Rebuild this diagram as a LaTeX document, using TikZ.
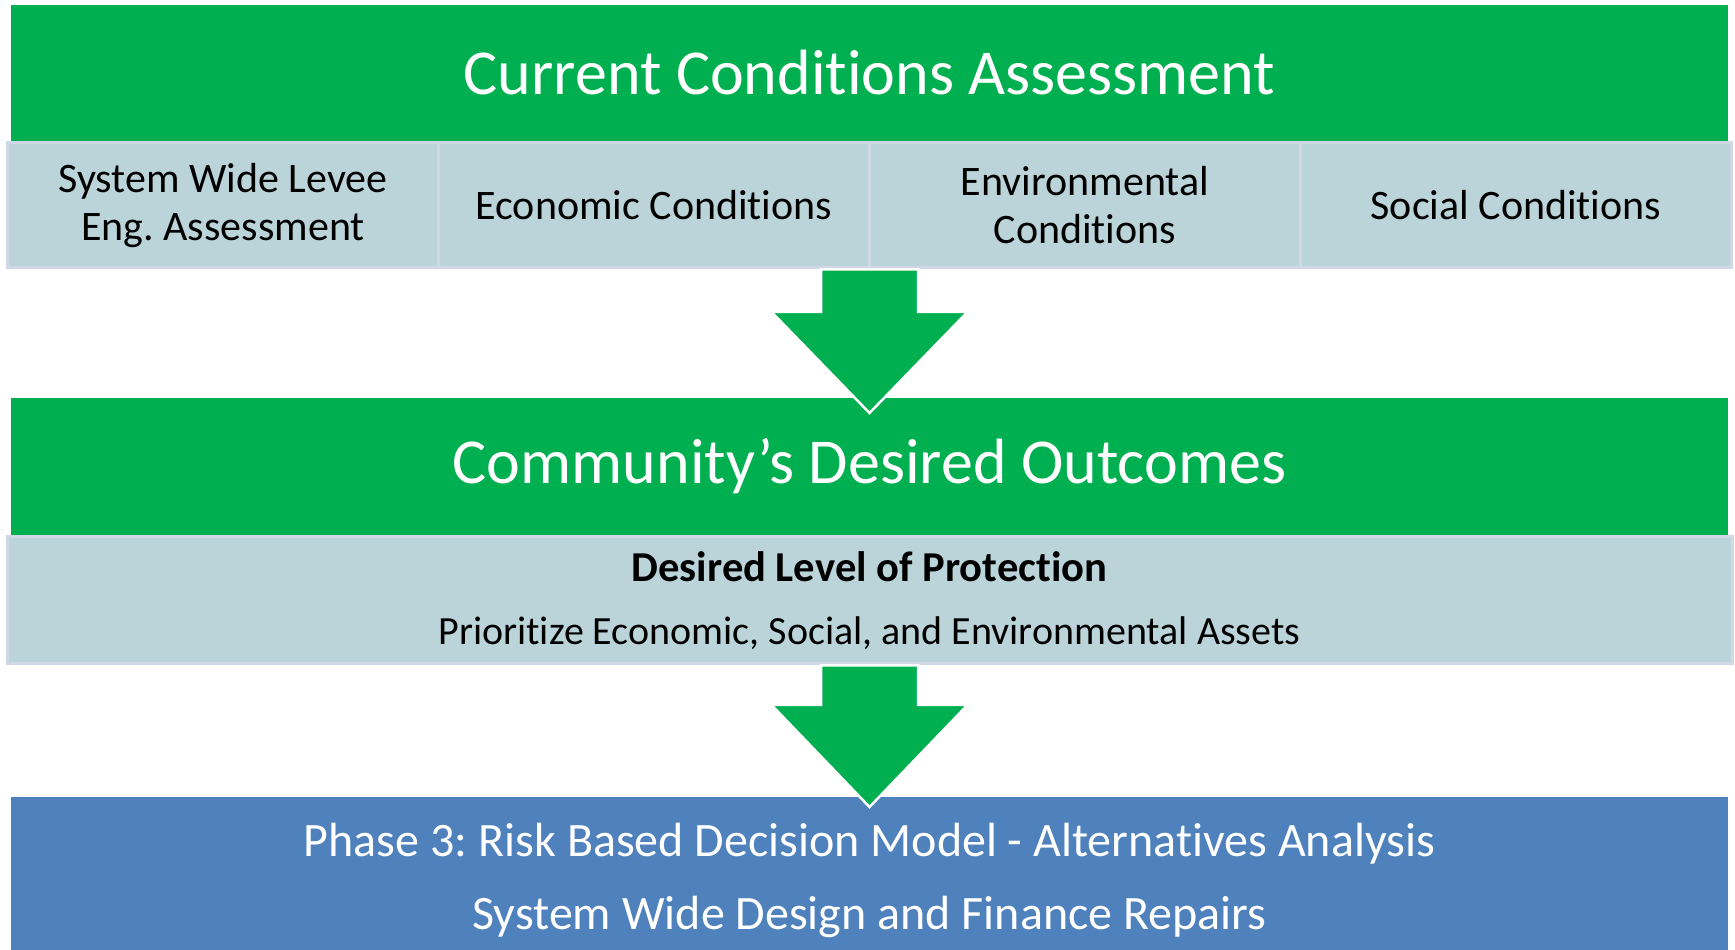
\documentclass[tikz,border=0pt]{standalone}
\usepackage{fontspec}
\setmainfont{Carlito}[RawFeature={-liga;-clig;-dlig;-calt}]
\frenchspacing
\usetikzlibrary{positioning,calc}

\definecolor{bandgreen}{RGB}{0,176,80}
\definecolor{cellfill}{RGB}{187,212,217}
\definecolor{cellline}{RGB}{208,216,232}
\definecolor{phaseblue}{RGB}{79,129,189}

\begin{document}
\begin{tikzpicture}[
			x=1pt, y=1pt,
			node distance=0pt,
			band/.style={
					fill=bandgreen,
					text=white,
					inner sep=0pt,
					outer sep=0pt,
					minimum width=1717pt,
					minimum height=137pt,
					font=\fontsize{64}{70}\selectfont
				},
			cell/.style={
					fill=cellfill,
					draw=cellline,
					line width=3pt,
					inner sep=0pt,
					outer sep=0pt,
					align=center,
					minimum width=431pt,
					minimum height=125pt,
					font=\fontsize{42}{48}\selectfont
				},
			blockarrow/.style={
					fill=bandgreen,
					draw=white,
					line width=2.5pt
				}
		]

		\useasboundingbox (0,0) rectangle (1735,950);

		% top band and its four cells
		\node (current) [band] at (869.5,876.5)
		{\raisebox{3pt}{Current Conditions Assessment}};

		\node (levee) [cell] at (223,744.5)
		{System Wide Levee\\Eng. Assessment};

		\node (econ) [cell, right=of levee]
		{Economic Conditions};

		\node (env) [cell, right=of econ]
		{Environmental\\Conditions};

		\node (social) [cell, right=of env]
		{Social Conditions};

		% middle band
		\node (outcomes) [band] at (869.5,483.5)
		{Community’s Desired Outcomes};

		\node (protect) [cell,
			minimum width=1725pt,
			minimum height=127pt,
			font=\fontsize{40}{63}\selectfont] at (869.5,349.5)
		{{\fontsize{42.6}{63}\selectfont\bfseries Desired Level of Protection}\\Prioritize Economic, Social, and Environmental Assets};

		% bottom band
		\node (phase) [band,
			fill=phaseblue,
			minimum height=166pt,
			align=center,
			font=\fontsize{48}{73}\selectfont] at (869.5,70)
		{Phase 3: Risk Based Decision Model - Alternatives Analysis\\System Wide Design and Finance Repairs};

		% block arrows
		\coordinate (tipA) at (869.5,537);
		\coordinate (tipB) at (869.5,143);

		\draw[blockarrow] let \p1=(econ.south east), \p2=(tipA) in
		(\x1-48.5pt,\y1-1.5pt) -- (\x1+48.5pt,\y1-1.5pt) -- (\x1+48.5pt,\y2+101pt)
		-- (\x1+98pt,\y2+101pt) -- (\x1,\y2) -- (\x1-98pt,\y2+101pt)
		-- (\x1-48.5pt,\y2+101pt) -- cycle;

		\draw[blockarrow] let \p1=(protect.south), \p2=(tipB) in
		(\x1-48.5pt,\y1-1.5pt) -- (\x1+48.5pt,\y1-1.5pt) -- (\x1+48.5pt,\y2+102pt)
		-- (\x1+98pt,\y2+102pt) -- (\x1,\y2) -- (\x1-98pt,\y2+102pt)
		-- (\x1-48.5pt,\y2+102pt) -- cycle;

	\end{tikzpicture}
\end{document}
